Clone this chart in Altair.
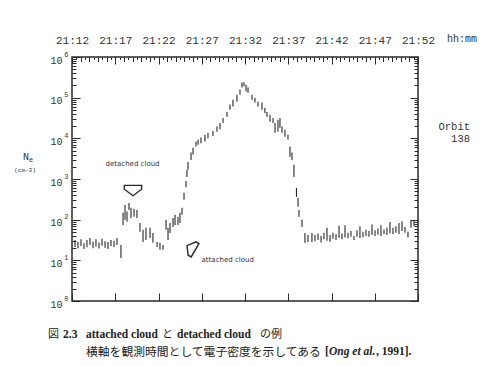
import altair as alt
import pandas as pd

# ---------------- data ----------------
# time in minutes after 21:12, and the log10 of the low / high end of each Ne segment (cm^-3)
minutes = [0.35, 0.69, 1.04, 1.39, 1.73, 2.08, 2.43, 2.77, 3.12, 3.47, 3.82, 4.16, 4.51, 4.86, 5.20,
           5.66, 5.90, 6.13, 6.36, 6.59, 6.82, 7.17, 7.51, 7.86, 8.21, 8.55, 9.02, 9.36, 9.83, 10.17,
           10.52, 10.87, 11.10, 11.33, 11.68, 11.91, 12.25, 12.48, 12.72, 12.95, 13.18, 13.29, 13.41,
           13.76, 13.99, 14.33, 14.57, 14.91, 15.37, 15.72, 16.30, 16.76, 17.11, 17.46, 17.92, 18.26,
           18.61, 19.07, 19.42, 19.65, 19.88, 20.12, 20.35, 20.81, 21.15, 21.50, 21.96, 22.30, 22.54,
           22.89, 23.24, 23.47, 23.81, 24.04, 24.28, 24.62, 24.97, 25.20, 25.43, 25.66, 25.95, 26.13,
           26.24, 26.59, 26.93, 27.28, 27.74,
           28.09, 28.44, 28.79, 29.13, 29.48, 29.83, 30.17, 30.52, 30.87, 31.21, 31.56, 31.91, 32.25,
           32.60, 32.95, 33.29, 33.64, 33.99, 34.33, 34.68, 35.03, 35.37, 35.72, 36.07, 36.41, 36.76,
           37.11, 37.45, 37.80, 38.15, 38.49, 38.84, 39.19, 39.54]
log_ne_low = [1.33, 1.30, 1.35, 1.28, 1.32, 1.38, 1.30, 1.34, 1.29, 1.36, 1.31, 1.28, 1.35, 1.33, 1.38,
              1.06, 1.87, 2.00, 1.95, 2.24, 2.04, 2.07, 2.04, 1.70, 1.45, 1.50, 1.55, 1.43, 1.33, 1.26,
              1.26, 1.75, 1.50, 1.67, 1.82, 1.87, 1.87, 1.92, 2.12, 2.49, 2.80, 3.05, 3.23,
              3.47, 3.60, 3.80, 3.84, 3.88, 3.92, 4.00, 4.06, 4.16, 4.22, 4.38, 4.53, 4.70,
              4.78, 4.90, 5.07, 5.25, 5.28, 5.15, 5.12, 4.95, 4.88, 4.78, 4.70, 4.62, 4.53,
              4.41, 4.38, 4.14, 4.16, 4.26, 4.14, 4.04, 3.97, 3.55, 3.47, 3.05, 2.56, 2.32,
              2.07, 1.82, 1.43, 1.45, 1.45,
              1.47, 1.50, 1.44, 1.52, 1.48, 1.46, 1.53, 1.50, 1.55, 1.52, 1.56, 1.54, 1.58,
              1.50, 1.58, 1.55, 1.57, 1.60, 1.58, 1.62, 1.60, 1.63, 1.60, 1.64, 1.62, 1.66,
              1.64, 1.68, 1.65, 1.72, 1.68, 1.56, 1.80, 1.84]
log_ne_high = [1.50, 1.45, 1.52, 1.42, 1.50, 1.55, 1.46, 1.52, 1.44, 1.53, 1.47, 1.45, 1.50, 1.48, 1.55,
               1.38, 2.17, 2.36, 2.20, 2.41, 2.29, 2.27, 2.24, 1.92, 1.75, 1.80, 1.80, 1.67, 1.45, 1.43,
               1.38, 2.00, 1.80, 1.92, 2.04, 2.12, 2.07, 2.17, 2.29, 2.66, 2.95, 3.23, 3.42,
               3.65, 3.77, 3.92, 3.97, 4.02, 4.09, 4.14, 4.18, 4.29, 4.38, 4.50, 4.65, 4.83,
               4.95, 5.07, 5.20, 5.37, 5.38, 5.32, 5.25, 5.07, 5.00, 4.90, 4.88, 4.75, 4.65,
               4.58, 4.50, 4.38, 4.46, 4.50, 4.29, 4.21, 4.09, 3.80, 3.65, 3.35, 2.78, 2.54,
               2.24, 2.00, 1.67, 1.63, 1.67,
               1.62, 1.66, 1.60, 1.68, 1.80, 1.62, 1.68, 1.64, 1.85, 1.66, 1.86, 1.68, 1.72,
               1.60, 1.74, 1.84, 1.70, 1.75, 1.72, 1.88, 1.74, 1.78, 1.86, 1.76, 1.80, 1.94,
               1.80, 1.84, 1.92, 1.96, 1.82, 1.70, 1.98, 1.97]

time_ticks = [0, 5, 10, 15, 20, 25, 30, 35, 40]
time_labels = ["21:12", "21:17", "21:22", "21:27", "21:32", "21:37", "21:42", "21:47", "21:52"]
decades = [1, 10, 100, 1000, 10000, 100000, 1000000]
decade_exponents = ["0", "1", "2", "3", "4", "5", "6"]

# annotation anchors (time in minutes, Ne)
detached_t, detached_ne = [7.0], [2350]
attached_t, attached_ne = [18.0], [10.2]
det_arrow_t, det_arrow_ne = [7.05], [520]
att_arrow_t, att_arrow_ne = [13.76], [20.2]

# ---------------- chart ----------------
df = pd.DataFrame({
    "t": minutes,
    "lo": [10 ** v for v in log_ne_low],
    "hi": [10 ** v for v in log_ne_high],
})

W, H = 346, 244
INK = "#2a2a2a"
MONO = "Liberation Mono"

xs = alt.Scale(domain=[0, 40], nice=False, zero=False)
ys = alt.Scale(type="log", domain=[1, 1000000], nice=False)

time_expr = "[" + ",".join("'%s'" % s for s in time_labels) + "][round(datum.value/5)]"
exp_expr = "[" + ",".join("'%s'" % s for s in decade_exponents) + "][round(log(datum.value)/LN10)]"

half_minutes = [i * 0.5 for i in range(81)]
whole_minutes = list(range(41))
minor_decades = [k * 10 ** d for d in range(6) for k in range(2, 10)]


def tick_axis(orient, values, size, width=1):
    return alt.Axis(orient=orient, values=values, offset=-size, tickSize=size, ticks=True,
                    labels=False, domain=False, grid=False, title=None,
                    tickColor=INK, tickWidth=width)


def seg(opacity, xaxis, yaxis):
    return alt.Chart(df).mark_rule(color="#262626", strokeWidth=1.1, opacity=opacity).encode(
        x=alt.X("t:Q", scale=xs, axis=xaxis),
        y=alt.Y("lo:Q", scale=ys, axis=yaxis),
        y2="hi:Q",
    )


top_labels = alt.Axis(orient="top", values=time_ticks, labelExpr=time_expr, ticks=False,
                      tickSize=0, domain=False, grid=False, title=None, labelFlush=False,
                      labelPadding=12, labelFont=MONO, labelFontSize=11, labelColor="#333")
left_tens = alt.Axis(orient="left", values=decades, labelExpr="'10'", ticks=False, tickSize=0,
                     domain=False, grid=False, title=None, labelPadding=10, labelOffset=3,
                     labelFont=MONO, labelFontSize=10, labelColor="#333", labelFlush=False)
left_exps = alt.Axis(orient="left", values=decades, labelExpr=exp_expr, ticks=False, tickSize=0,
                     domain=False, grid=False, title=None, labelPadding=4, labelOffset=-3,
                     labelFont=MONO, labelFontSize=7, labelColor="#333", labelFlush=False)

layers = [
    seg(1, top_labels, left_tens),
    seg(0, tick_axis("top", half_minutes, 2.5), tick_axis("left", minor_decades, 4)),
    seg(0, tick_axis("top", whole_minutes, 4.5), tick_axis("left", decades, 8)),
    seg(0, tick_axis("top", time_ticks, 7), tick_axis("right", minor_decades, 4)),
    seg(0, tick_axis("bottom", time_ticks, 8), tick_axis("right", decades, 8)),
    seg(0, None, left_exps),
]

down_arrow = "M -1 -0.6 L 1 -0.6 L 1 -0.15 L 0 0.6 L -1 -0.15 Z"


def anchor_chart(ts, ns):
    return alt.Chart(pd.DataFrame({"t": ts, "ne": ns})).encode(
        x=alt.X("t:Q", scale=xs, axis=None),
        y=alt.Y("ne:Q", scale=ys, axis=None),
    )


layers += [
    anchor_chart(det_arrow_t, det_arrow_ne).mark_point(shape=down_arrow, filled=False, size=300,
                                                       stroke=INK, strokeWidth=1.4, opacity=1),
    anchor_chart(att_arrow_t, att_arrow_ne).mark_point(shape=down_arrow, filled=False, size=240,
                                                       angle=120, stroke=INK, strokeWidth=1.4,
                                                       opacity=1),
    anchor_chart(detached_t, detached_ne).mark_text(text="detached cloud", font="DejaVu Sans",
                                                    fontSize=7, color="#333"),
    anchor_chart(attached_t, attached_ne).mark_text(text="attached cloud", font="DejaVu Sans",
                                                    fontSize=7, color="#333"),
]


def txt(s, x, y, font=MONO, size=10, weight="normal", style="normal", align="left", color="#333"):
    return alt.Chart(pd.DataFrame({"s": [s]})).mark_text(
        font=font, fontSize=size, fontWeight=weight, fontStyle=style, align=align,
        baseline="middle", color=color,
    ).encode(text="s:N", x=alt.value(x), y=alt.value(y))


SERIF = "Liberation Serif"
CJK = "Noto Sans CJK JP"
layers += [
    txt("hh:mm", 390, -18, size=10, align="center"),
    txt("Orbit", 398, 70, size=10.5, align="right"),
    txt("138", 398, 82, size=10.5, align="right"),
    txt("N", -46, 100, size=10, align="center"),
    txt("e", -41, 103, size=7, align="center"),
    txt("(cm-3)", -47, 113, size=6, align="center"),
    # caption
    txt("図", -24, 278, font=CJK, size=11, color="#222"),
    txt("2.3", -9, 278, font=SERIF, size=11.5, weight="bold", color="#222"),
    txt("attached cloud", 14, 278, font=SERIF, size=11.5, weight="bold", color="#222"),
    txt("と", 90, 278, font=CJK, size=11, color="#222"),
    txt("detached cloud", 105, 278, font=SERIF, size=11.5, weight="bold", color="#222"),
    txt("の例", 188, 278, font=CJK, size=11, color="#222"),
    txt("横軸を観測時間として電子密度を示してある", 14, 295, font=CJK, size=11.8, color="#222"),
    txt("[", 253, 295, font=SERIF, size=11.5, weight="bold", color="#222"),
    txt("Ong et al.", 257, 295, font=SERIF, size=11.5, weight="bold", style="italic", color="#222"),
    txt(", 1991].", 304, 295, font=SERIF, size=11.5, weight="bold", color="#222"),
]

chart = alt.layer(*layers).resolve_axis(x="independent", y="independent").properties(
    width=W,
    height=H,
    autosize=alt.AutoSizeParams(type="none"),
    padding={"left": 64, "top": 49, "right": 65, "bottom": 58},
    background="white",
).configure_view(stroke=INK, strokeWidth=1.5)

chart.save("out.html", embed_options={"renderer": "svg", "actions": False})
